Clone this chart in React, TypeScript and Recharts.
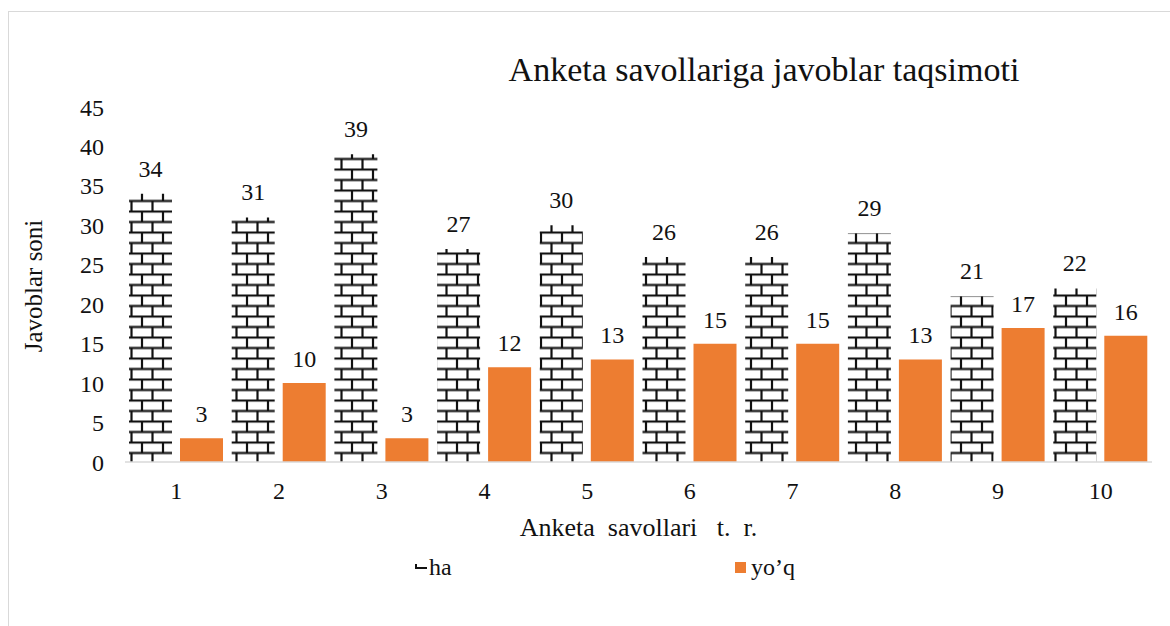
import { BarChart, Bar, XAxis, YAxis, LabelList } from 'recharts';

const questions = ['1', '2', '3', '4', '5', '6', '7', '8', '9', '10'];
const haValues = [34, 31, 39, 27, 30, 26, 26, 29, 21, 22];
const yoqValues = [3, 10, 3, 12, 13, 15, 15, 13, 17, 16];
const yTicks = [0, 5, 10, 15, 20, 25, 30, 35, 40, 45];

const data = questions.map((q, i) => ({ q, ha: haValues[i], yoq: yoqValues[i] }));

const FONT = "'Liberation Serif', 'Times New Roman', serif";
const ORANGE = '#ED7D31';

function LegendBox() {
  return (
    <div style={{ position: 'absolute', left: 0, top: 554, width: 1170, height: 30, fontFamily: FONT, fontSize: 24, color: '#111' }}>
      <svg width={12} height={8} style={{ position: 'absolute', left: 415, top: 10 }}>
        <rect x={0} y={0} width={12} height={8} fill="#fff" />
        <line x1={0} y1={4} x2={12} y2={4} stroke="#111" strokeWidth={2} />
        <line x1={1} y1={0} x2={1} y2={4} stroke="#111" strokeWidth={2} />
      </svg>
      <span style={{ position: 'absolute', left: 429, top: 0, lineHeight: '26px' }}>ha</span>
      <div style={{ position: 'absolute', left: 735, top: 8, width: 11, height: 11, background: ORANGE }} />
      <span style={{ position: 'absolute', left: 751, top: 0, lineHeight: '26px' }}>yo’q</span>
    </div>
  );
}

export default function App() {
  return (
    <div style={{ position: 'relative', width: 1170, height: 626, background: '#fff', overflow: 'hidden' }}>
      <style>{'body{margin:0;overflow:hidden}'}</style>
      <div
        style={{
          position: 'absolute',
          left: 8,
          top: 11,
          width: 1170,
          height: 640,
          borderLeft: '1px solid #d9d9d9',
          borderTop: '1px solid #d9d9d9',
        }}
      />
      <div style={{ position: 'absolute', left: 0, top: 0 }}>
        <BarChart
          width={1170}
          height={626}
          data={data}
          margin={{ top: 107, right: 18, left: 65, bottom: 114 }}
          barCategoryGap={4}
          barGap={8}
        >
          <defs>
            <pattern id="brick" patternUnits="userSpaceOnUse" width={21} height={21} x={0} y={0.5}>
              <rect x={0} y={0} width={21} height={21} fill="#fff" />
              <line x1={0} y1={1} x2={21} y2={1} stroke="#111" strokeWidth={2.2} />
              <line x1={0} y1={11.5} x2={21} y2={11.5} stroke="#111" strokeWidth={2.2} />
              <line x1={16} y1={1} x2={16} y2={11.5} stroke="#111" strokeWidth={2.2} />
              <line x1={5.5} y1={11.5} x2={5.5} y2={21} stroke="#111" strokeWidth={2.2} />
            </pattern>
          </defs>
          <text x={764} y={81} textAnchor="middle" fontFamily={FONT} fontSize={34} fill="#111">
            Anketa savollariga javoblar taqsimoti
          </text>
          <XAxis
            dataKey="q"
            height={50}
            tickLine={false}
            tickSize={0}
            tickMargin={20}
            axisLine={{ stroke: '#d9d9d9', strokeWidth: 1.5 }}
            tick={{ fontFamily: FONT, fontSize: 24, fill: '#111' }}
            label={{
              value: 'Anketa\u00A0\u00A0savollari\u00A0\u00A0\u00A0t.\u00A0\u00A0r.',
              position: 'bottom',
              offset: 6,
              style: { fontFamily: FONT, fontSize: 26, fill: '#111' },
            }}
          />
          <YAxis
            width={60}
            domain={[0, 45]}
            ticks={yTicks}
            interval={0}
            axisLine={false}
            tickLine={false}
            tickSize={0}
            tickMargin={21}
            tick={{ fontFamily: FONT, fontSize: 24, fill: '#111' }}
            label={{
              content: () => (
                <text x={33} y={286} transform="rotate(-90 33 286)" textAnchor="middle" dominantBaseline="central" fontFamily={FONT} fontSize={25} fill="#111">
                  Javoblar soni
                </text>
              ),
            }}
          />
          <Bar dataKey="ha" name="ha" fill="url(#brick)" isAnimationActive={false}>
            <LabelList dataKey="ha" position="top" offset={17} style={{ fontFamily: FONT, fontSize: 24, fill: '#111' }} />
          </Bar>
          <Bar dataKey="yoq" name="yo’q" fill={ORANGE} isAnimationActive={false}>
            <LabelList dataKey="yoq" position="top" offset={16} style={{ fontFamily: FONT, fontSize: 24, fill: '#111' }} />
          </Bar>
        </BarChart>
      </div>
      <LegendBox />
    </div>
  );
}
